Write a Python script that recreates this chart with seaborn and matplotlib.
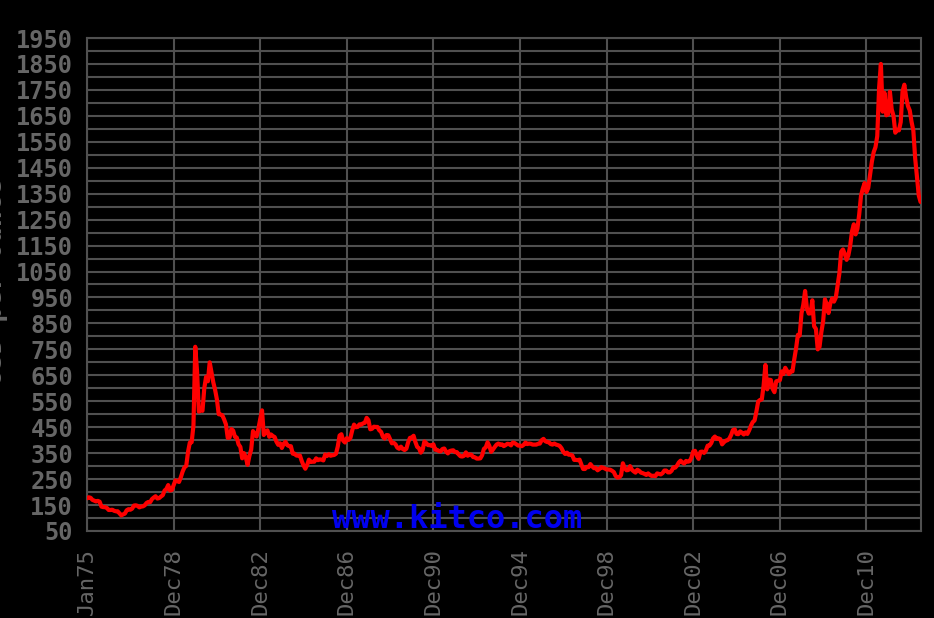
import numpy as np
import pandas as pd
import matplotlib
matplotlib.use("Agg")
import matplotlib.pyplot as plt
import seaborn as sns

# Monthly gold price (USD/oz), Jan 1975 .. Jul 2013
start_year = 1975
prices_1975_1979 = [
    176, 180, 178, 170, 167, 164, 166, 163, 144, 142, 142, 139,
    131, 131, 132, 128, 126, 126, 118, 110, 114, 117, 130, 134,
    132, 136, 148, 149, 147, 141, 144, 145, 149, 158, 162, 161,
    173, 179, 184, 175, 177, 183, 188, 206, 212, 227, 206, 208,
    227, 245, 242, 239, 257, 279, 295, 301, 355, 391, 392, 456,
]
prices_1980s = [
    760, 665, 510, 517, 513, 600, 644, 627, 700, 662, 623, 594,
    557, 500, 499, 496, 480, 461, 409, 410, 443, 437, 413, 410,
    384, 374, 330, 350, 334, 305, 339, 364, 435, 422, 414, 444,
    481, 515, 420, 432, 438, 413, 422, 416, 412, 394, 382, 388,
    370, 386, 394, 381, 377, 377, 348, 348, 341, 340, 341, 320,
    303, 290, 304, 325, 316, 317, 317, 330, 323, 326, 325, 322,
    345, 339, 346, 340, 342, 343, 348, 376, 418, 423, 398, 391,
    408, 401, 409, 438, 460, 450, 451, 461, 460, 465, 467, 486,
    477, 442, 444, 452, 451, 451, 438, 432, 413, 406, 420, 419,
    404, 388, 390, 384, 371, 367, 375, 366, 362, 367, 392, 409,
]
prices_1990s = [
    410, 417, 393, 374, 369, 352, 362, 395, 389, 381, 381, 378,
    384, 363, 363, 358, 357, 366, 368, 356, 349, 358, 360, 361,
    354, 354, 345, 338, 337, 340, 353, 340, 345, 344, 335, 334,
    329, 329, 330, 342, 367, 372, 392, 378, 355, 364, 374, 383,
    387, 382, 384, 377, 381, 386, 385, 380, 391, 389, 384, 379,
    379, 377, 382, 391, 385, 387, 386, 383, 383, 383, 386, 387,
    400, 405, 396, 393, 392, 385, 383, 387, 383, 381, 378, 369,
    355, 347, 352, 344, 344, 341, 324, 324, 323, 325, 306, 289,
    289, 297, 296, 308, 299, 292, 293, 284, 289, 296, 294, 291,
    287, 287, 286, 282, 277, 262, 256, 257, 265, 311, 293, 284,
]
prices_2000s = [
    285, 300, 286, 280, 275, 286, 282, 275, 273, 270, 266, 272,
    266, 262, 263, 261, 272, 270, 268, 273, 283, 283, 276, 276,
    282, 295, 294, 302, 314, 321, 314, 310, 320, 317, 319, 333,
    357, 359, 340, 328, 355, 356, 351, 360, 379, 379, 389, 407,
    414, 405, 407, 404, 384, 392, 398, 400, 406, 420, 439, 442,
    424, 423, 434, 429, 422, 430, 424, 438, 456, 470, 476, 510,
    549, 555, 557, 610, 690, 596, 633, 632, 598, 585, 627, 629,
    631, 665, 655, 679, 667, 655, 665, 665, 712, 754, 806, 803,
    889, 922, 975, 909, 888, 889, 939, 839, 829, 750, 760, 816,
    858, 943, 924, 890, 928, 946, 934, 949, 996, 1043, 1127, 1135,
]
prices_2010s = [
    1118, 1095, 1113, 1149, 1205, 1232, 1193, 1215, 1271, 1343, 1370, 1391,
    1356, 1372, 1424, 1473, 1510, 1529, 1572, 1756, 1850, 1666, 1739, 1652,
    1656, 1743, 1675, 1650, 1585, 1596, 1594, 1626, 1744, 1770, 1722, 1688,
    1671, 1627, 1593, 1487, 1414, 1343, 1318,
]

x_tick_years = [1975, 1979, 1983, 1987, 1991, 1995, 1999, 2003, 2007, 2011]
x_tick_labels = ["Jan75", "Dec78", "Dec82", "Dec86", "Dec90",
                 "Dec94", "Dec98", "Dec02", "Dec06", "Dec10"]
y_label_values = list(range(50, 1951, 100))
y_grid_values = list(range(50, 1951, 50))

prices = prices_1975_1979 + prices_1980s + prices_1990s + prices_2000s + prices_2010s
t = start_year + np.arange(len(prices)) / 12.0
df = pd.DataFrame({"t": t, "price": prices})

sns.set_theme(style="dark")
plt.rcParams["font.family"] = ["DejaVu Sans Mono", "DejaVu Sans"]

fig = plt.figure(figsize=(9.34, 6.18), dpi=100, facecolor="black")
ax = fig.add_axes([87 / 934, 1 - 531 / 618, (921 - 87) / 934, (531 - 38) / 618])
ax.set_facecolor("black")

grid_col = "#505050"
label_col = "#666666"

sns.lineplot(data=df, x="t", y="price", color="#ff0000", linewidth=3.0,
             estimator=None, sort=False, ax=ax, zorder=3)

ax.set_xlim(1975, 2013.52)
ax.set_ylim(50, 1950)
ax.set_yticks(y_grid_values)
ax.set_yticklabels([str(v) if v in y_label_values else "" for v in y_grid_values],
                   fontsize=17, fontweight="bold", color=label_col)
ax.set_xticks(x_tick_years)
ax.set_xticklabels(x_tick_labels, rotation=90, fontsize=16, color=label_col)
ax.tick_params(axis="both", length=0)
ax.tick_params(axis="y", pad=10)
ax.tick_params(axis="x", pad=12)
ax.grid(True, color=grid_col, linewidth=1.5, zorder=0)
for s in ax.spines.values():
    s.set_color(grid_col)
    s.set_linewidth(1.5)
ax.set_xlabel("")
ax.set_ylabel("")

# Axis title, partly off the left edge as in the reference
fig.text(8 / 934, 1 - 282 / 618, "USD per Ounce", rotation=90, ha="right",
         va="center", fontsize=19, fontweight="bold", color=label_col)

fig.text(457 / 934, 1 - 528 / 618, "www.kitco.com", ha="center", va="baseline",
         fontsize=23, fontweight="bold", color="#0000ee", zorder=10)

fig.savefig("out.png", dpi=100, facecolor="black")
